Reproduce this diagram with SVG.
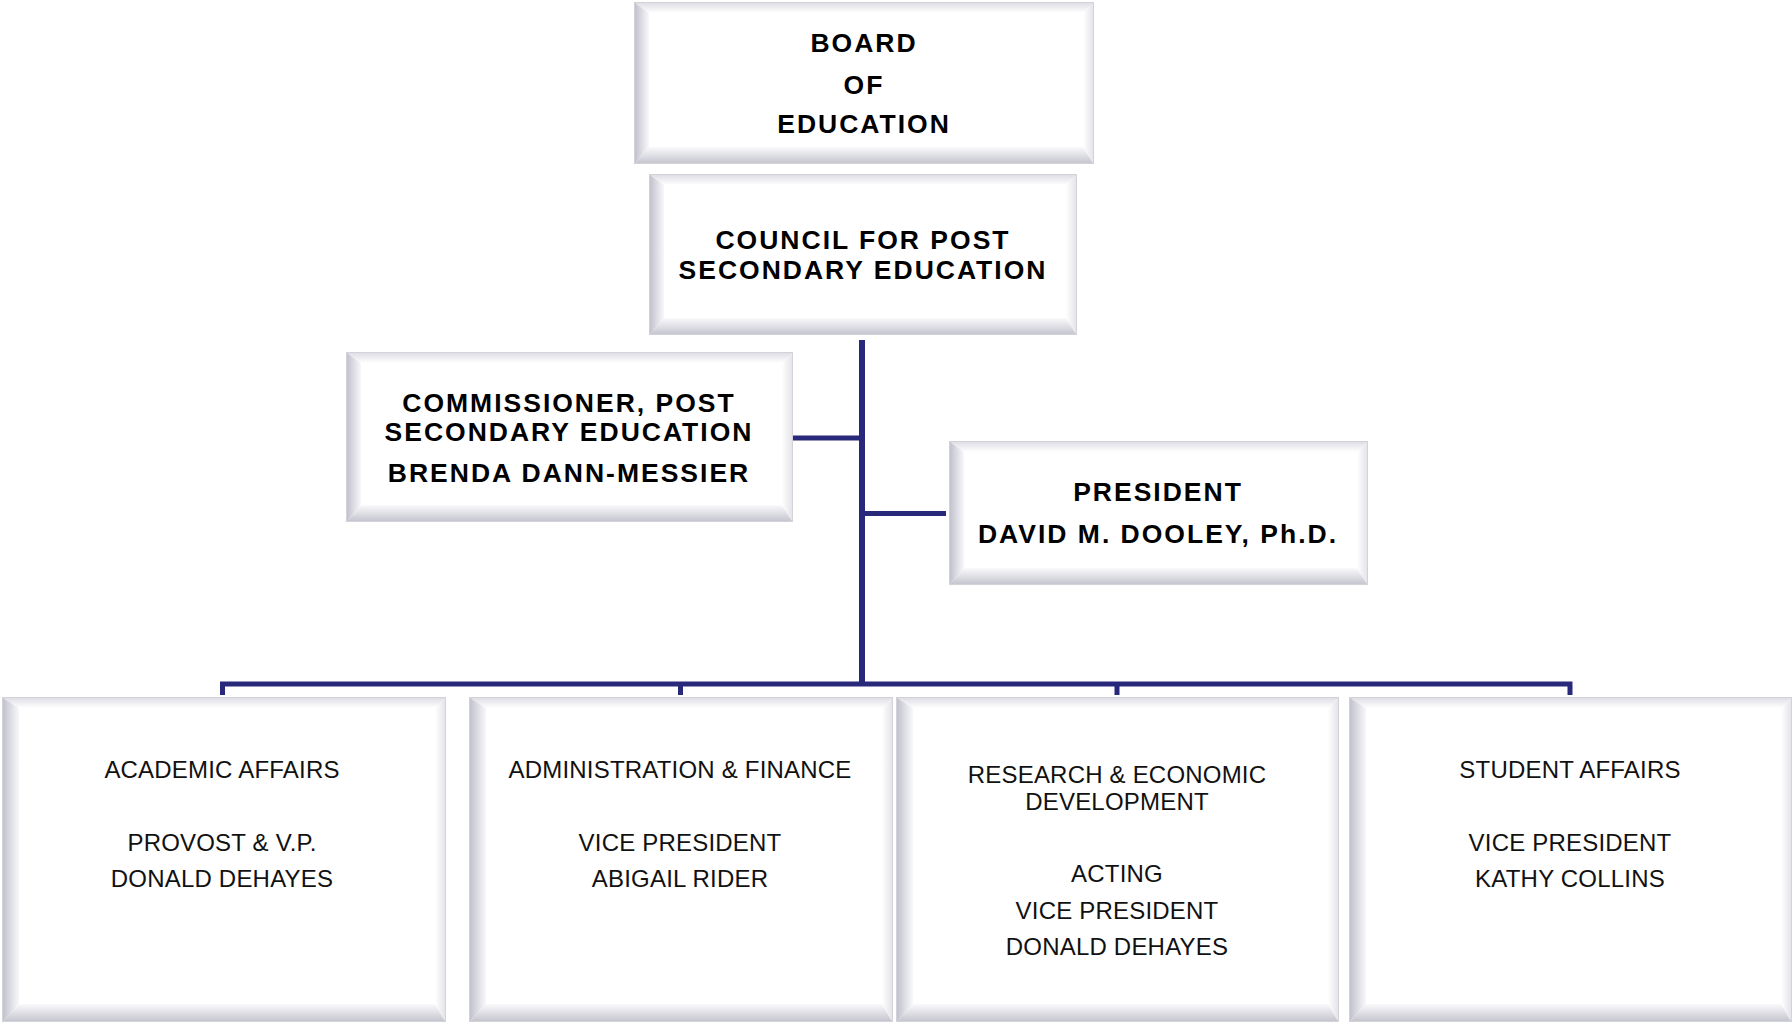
<svg xmlns="http://www.w3.org/2000/svg" width="1792" height="1022" viewBox="0 0 1792 1022">
<defs>
<linearGradient id="gL" x1="0" y1="0" x2="1" y2="0"><stop offset="0" stop-color="#c2c2ce"/><stop offset="1" stop-color="#f8f8fb"/></linearGradient>
<linearGradient id="gR" x1="0" y1="0" x2="1" y2="0"><stop offset="0" stop-color="#ffffff"/><stop offset="1" stop-color="#e4e4ea"/></linearGradient>
<linearGradient id="gT" x1="0" y1="0" x2="0" y2="1"><stop offset="0" stop-color="#dedee6"/><stop offset="1" stop-color="#ffffff"/></linearGradient>
<linearGradient id="gB" x1="0" y1="0" x2="0" y2="1"><stop offset="0" stop-color="#fafafc"/><stop offset="1" stop-color="#c6c6d0"/></linearGradient>
</defs>
<style>
.face{fill:#ffffff;stroke:#d2d2d8;stroke-width:2}
.bl{fill:url(#gL)}
.br{fill:url(#gR)}
.bt{fill:url(#gT)}
.bb{fill:url(#gB)}
.hd{font-family:"Liberation Sans",Arial,sans-serif;font-weight:bold;font-size:26.5px;letter-spacing:2px;fill:#000;text-anchor:middle}
.tx{font-family:"Liberation Sans",Arial,sans-serif;font-size:24px;letter-spacing:0.2px;fill:#111;text-anchor:middle}
.ln{fill:none;stroke:#29297b;stroke-width:5;stroke-linejoin:miter;stroke-linecap:butt}
</style>
<rect width="1792" height="1022" fill="#ffffff"/>

<g id="connectors">
<path class="ln" d="M862,340 V686" style="stroke-width:6"/>
<path class="ln" d="M793,438 H862"/>
<path class="ln" d="M862,513.5 H946"/>
<path class="ln" d="M222.5,695 V684 H1570 V695"/>
<path class="ln" d="M680.5,684 V695"/>
<path class="ln" d="M1117,684 V695"/>
</g>

<g id="board">
<rect class="face" x="635" y="3" width="458" height="160"/>
<polygon class="bt" points="635,3 1093,3 1083,13 649,13"/>
<polygon class="bl" points="635,3 649,13 649,147 635,163"/>
<polygon class="bb" points="635,163 649,147 1083,147 1093,163"/>
<polygon class="br" points="1093,3 1093,163 1083,147 1083,13"/>
<text class="hd" x="864" y="52">BOARD</text>
<text class="hd" x="864" y="94">OF</text>
<text class="hd" x="864" y="133">EDUCATION</text>
</g>

<g id="council">
<rect class="face" x="650" y="175" width="426" height="159"/>
<polygon class="bt" points="650,175 1076,175 1066,185 664,185"/>
<polygon class="bl" points="650,175 664,185 664,318 650,334"/>
<polygon class="bb" points="650,334 664,318 1066,318 1076,334"/>
<polygon class="br" points="1076,175 1076,334 1066,318 1066,185"/>
<text class="hd" x="863" y="249">COUNCIL FOR POST</text>
<text class="hd" x="863" y="279">SECONDARY EDUCATION</text>
</g>

<g id="commissioner">
<rect class="face" x="347" y="353" width="445" height="168"/>
<polygon class="bt" points="347,353 792,353 782,363 361,363"/>
<polygon class="bl" points="347,353 361,363 361,505 347,521"/>
<polygon class="bb" points="347,521 361,505 782,505 792,521"/>
<polygon class="br" points="792,353 792,521 782,505 782,363"/>
<text class="hd" x="569" y="412">COMMISSIONER, POST</text>
<text class="hd" x="569" y="441">SECONDARY EDUCATION</text>
<text class="hd" x="569" y="482">BRENDA DANN-MESSIER</text>
</g>

<g id="president">
<rect class="face" x="950" y="442" width="417" height="142"/>
<polygon class="bt" points="950,442 1367,442 1357,452 964,452"/>
<polygon class="bl" points="950,442 964,452 964,568 950,584"/>
<polygon class="bb" points="950,584 964,568 1357,568 1367,584"/>
<polygon class="br" points="1367,442 1367,584 1357,568 1357,452"/>
<text class="hd" x="1158" y="501">PRESIDENT</text>
<text class="hd" x="1158" y="543">DAVID M. DOOLEY, Ph.D.</text>
</g>

<g id="academic">
<rect class="face" x="3" y="698" width="442" height="323"/>
<polygon class="bt" points="3,698 445,698 435,708 19,708"/>
<polygon class="bl" points="3,698 19,708 19,1004 3,1021"/>
<polygon class="bb" points="3,1021 19,1004 435,1004 445,1021"/>
<polygon class="br" points="445,698 445,1021 435,1004 435,708"/>
<text class="tx" x="222" y="778">ACADEMIC AFFAIRS</text>
<text class="tx" x="222" y="851">PROVOST &amp; V.P.</text>
<text class="tx" x="222" y="887">DONALD DEHAYES</text>
</g>

<g id="administration">
<rect class="face" x="470" y="698" width="422" height="323"/>
<polygon class="bt" points="470,698 892,698 882,708 486,708"/>
<polygon class="bl" points="470,698 486,708 486,1004 470,1021"/>
<polygon class="bb" points="470,1021 486,1004 882,1004 892,1021"/>
<polygon class="br" points="892,698 892,1021 882,1004 882,708"/>
<text class="tx" x="680" y="778">ADMINISTRATION &amp; FINANCE</text>
<text class="tx" x="680" y="851">VICE PRESIDENT</text>
<text class="tx" x="680" y="887">ABIGAIL RIDER</text>
</g>

<g id="research">
<rect class="face" x="897" y="698" width="441" height="323"/>
<polygon class="bt" points="897,698 1338,698 1328,708 913,708"/>
<polygon class="bl" points="897,698 913,708 913,1004 897,1021"/>
<polygon class="bb" points="897,1021 913,1004 1328,1004 1338,1021"/>
<polygon class="br" points="1338,698 1338,1021 1328,1004 1328,708"/>
<text class="tx" x="1117" y="783">RESEARCH &amp; ECONOMIC</text>
<text class="tx" x="1117" y="810">DEVELOPMENT</text>
<text class="tx" x="1117" y="882">ACTING</text>
<text class="tx" x="1117" y="919">VICE PRESIDENT</text>
<text class="tx" x="1117" y="955">DONALD DEHAYES</text>
</g>

<g id="student">
<rect class="face" x="1350" y="698" width="441" height="323"/>
<polygon class="bt" points="1350,698 1791,698 1781,708 1366,708"/>
<polygon class="bl" points="1350,698 1366,708 1366,1004 1350,1021"/>
<polygon class="bb" points="1350,1021 1366,1004 1781,1004 1791,1021"/>
<polygon class="br" points="1791,698 1791,1021 1781,1004 1781,708"/>
<text class="tx" x="1570" y="778">STUDENT AFFAIRS</text>
<text class="tx" x="1570" y="851">VICE PRESIDENT</text>
<text class="tx" x="1570" y="887">KATHY COLLINS</text>
</g>
</svg>
